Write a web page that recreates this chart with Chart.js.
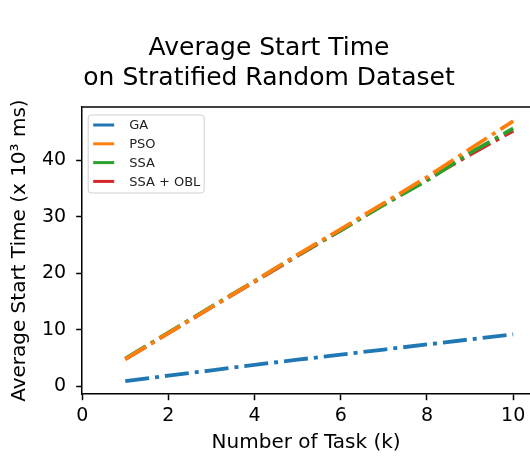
<!DOCTYPE html>
<html>
<head>
<meta charset="utf-8">
<script src="https://cdn.jsdelivr.net/npm/chart.js@4.4.0/dist/chart.umd.min.js"></script>
<style>
  html, body { margin: 0; padding: 0; background: #fff; overflow: hidden; }
  #wrap { width: 530px; height: 460px; }
</style>
</head>
<body>
<div id="wrap"><canvas id="chart" width="530" height="460"></canvas></div>
<script>
const tasks = [1, 2, 3, 4, 5, 6, 7, 8, 9, 10];
const ga = [0.9, 1.9, 2.8, 3.8, 4.7, 5.6, 6.5, 7.4, 8.3, 9.2];
const pso = [4.8, 9.4, 14.0, 18.6, 23.3, 27.8, 32.4, 37.0, 42.0, 46.9];
const ssa = [4.9, 9.5, 14.1, 18.6, 23.2, 27.6, 32.1, 36.4, 41.3, 45.6];
const ssaObl = [4.8, 9.4, 14.0, 18.5, 23.1, 27.6, 32.2, 36.6, 41.0, 45.2];
const xTicks = [0, 2, 4, 6, 8, 10];
const yTicks = [0, 10, 20, 30, 40];

const FONT = "'DejaVu Sans', sans-serif";
const dash = [24, 6, 4, 6];

function series(label, values, color) {
  return {
    label: label,
    data: tasks.map((t, i) => ({ x: t, y: values[i] })),
    borderColor: color,
    backgroundColor: color,
    borderWidth: 3.8,
    borderDash: dash,
    borderCapStyle: 'butt',
    pointRadius: 0,
    fill: false,
    tension: 0
  };
}

// legend box drawn inside the plot, upper left, like matplotlib
const boxLegend = {
  id: 'boxLegend',
  afterDraw(chart) {
    const ctx = chart.ctx;
    const a = chart.chartArea;
    const x = a.left + 6, y = a.top + 8, w = 116, h = 78;
    ctx.save();
    ctx.beginPath();
    ctx.roundRect(x, y, w, h, 3);
    ctx.fillStyle = 'rgba(255,255,255,0.85)';
    ctx.fill();
    ctx.strokeStyle = '#d0d0d0';
    ctx.lineWidth = 1;
    ctx.stroke();
    ctx.font = '13px ' + FONT;
    ctx.textBaseline = 'middle';
    chart.data.datasets.forEach((ds, i) => {
      const ry = y + 10 + i * 18.8;
      ctx.strokeStyle = ds.borderColor;
      ctx.lineWidth = 3;
      ctx.setLineDash([]);
      ctx.beginPath();
      ctx.moveTo(x + 5, ry);
      ctx.lineTo(x + 26, ry);
      ctx.stroke();
      ctx.fillStyle = '#222';
      ctx.fillText(ds.label, x + 41, ry + 1);
    });
    ctx.restore();
  }
};

// top frame line (right edge falls off the picture)
const frameTop = {
  id: 'frameTop',
  afterDraw(chart) {
    const ctx = chart.ctx;
    const a = chart.chartArea;
    ctx.save();
    ctx.strokeStyle = '#000';
    ctx.lineWidth = 1.5;
    ctx.beginPath();
    ctx.moveTo(a.left, a.top);
    ctx.lineTo(chart.width, a.top);
    ctx.stroke();
    ctx.restore();
  }
};

new Chart(document.getElementById('chart'), {
  type: 'line',
  data: {
    datasets: [
      series('GA', ga, '#1f77b4'),
      series('PSO', pso, '#ff7f0e'),
      series('SSA', ssa, '#2ca02c'),
      series('SSA + OBL', ssaObl, '#d62728')
    ]
  },
  options: {
    responsive: false,
    animation: false,
    layout: { padding: { left: 8, right: 0, top: 0, bottom: 5 } },
    plugins: {
      legend: { display: false },
      tooltip: { enabled: false },
      title: {
        display: true,
        text: ['Average Start Time', 'on Stratified Random Dataset'],
        color: '#000',
        font: { family: FONT, size: 25, weight: 'normal', lineHeight: 1.2 },
        padding: { top: 33, bottom: 14 }
      }
    },
    scales: {
      x: {
        type: 'linear',
        min: 0,
        max: 10.39,
        afterBuildTicks: s => { s.ticks = xTicks.map(v => ({ value: v })); },
        grid: { drawOnChartArea: false, tickLength: 6, color: '#000', tickWidth: 1.5 },
        border: { display: true, color: '#000', width: 1.5 },
        ticks: { color: '#000', font: { family: FONT, size: 19 }, padding: 4, maxRotation: 0 },
        title: { display: true, text: 'Number of Task (k)', color: '#000',
                 font: { family: FONT, size: 20 }, padding: { top: 0, bottom: 0 } }
      },
      y: {
        type: 'linear',
        min: -1.4,
        max: 49.4,
        afterBuildTicks: s => { s.ticks = yTicks.map(v => ({ value: v })); },
        grid: { drawOnChartArea: false, tickLength: 6, color: '#000', tickWidth: 1.5 },
        border: { display: true, color: '#000', width: 1.5 },
        ticks: { color: '#000', font: { family: FONT, size: 19 }, padding: 10 },
        title: { display: true, text: 'Average Start Time (x 10³ ms)', color: '#000',
                 font: { family: FONT, size: 20 }, padding: { top: 0, bottom: 0 } }
      }
    }
  },
  plugins: [boxLegend, frameTop]
});
</script>
</body>
</html>
